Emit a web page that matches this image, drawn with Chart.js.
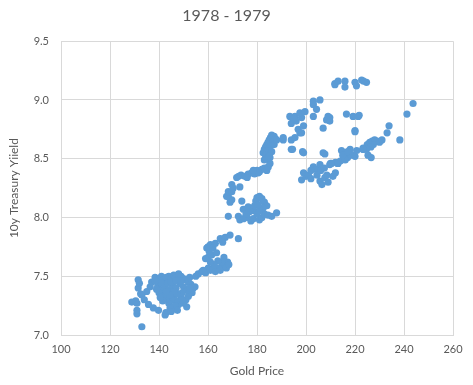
<!DOCTYPE html>
<html>
<head>
<meta charset="utf-8">
<script src="https://cdn.jsdelivr.net/npm/chart.js@4.4.1/dist/chart.umd.min.js"></script>
<style>
  html, body { margin: 0; padding: 0; background: #ffffff; }
  #wrap { width: 473px; height: 385px; position: relative; }
</style>
</head>
<body>
<div id="wrap"><canvas id="c" width="473" height="385"></canvas></div>
<script>
// ---- Data ----
const chartTitle = '1978 - 1979';
const xAxisTitle = 'Gold Price';
const yAxisTitle = '10y Treasury Yiield';
const xTicks = [100, 120, 140, 160, 180, 200, 220, 240, 260];
const yTicks = [7.0, 7.5, 8.0, 8.5, 9.0, 9.5];

const goldPrice = [
  // early 1978, left edge
  133,128.9,131,131,131.5,131.5,132,130.5,133,135,136.4,138.4,137,135.7,137.7,139.8,142.5,142.8,131,134,132.5,
  // dense low cluster
  140,141,142,143,144,145,146,147,148,149,150,151,152,153,154,154.7,153.5,152,151,151.3,
  150,149,148,147,146,145,144,143,142,141,140,139.5,141,142.5,144,145.5,147,148.5,150,151.5,
  149.5,147.5,146,144.5,143,141.5,140.5,143.5,145,147,149,152.5,146.5,144.5,147.5,145,149.5,152.5,139,138.5,
  // rise to 7.85
  155,156,157.5,158,160.1,159,161,162,163,164,165,166,167,168,167.5,165.5,164,162.5,161,160,
  159,161.5,160.5,159.5,160,161,163,165,167,169,172.4,166,162,163.5,166.5,168.5,
  // climb to 8.5
  168.3,169,169.7,168.3,167.6,168.3,169.7,169.7,170.3,173,171.7,172.5,173.5,175,176.4,177.8,179,180,181,182,
  183,184,184.6,185.3,185.3,180.5,178.5,176,
  // top of 1978 column
  182.5,183,183.5,184,184.5,185,185.5,186,187,187.5,186.5,185.5,184.5,183.5,186,187,188,185,184,183,
  // 8.0 - 8.2 group
  172.4,173.8,174.4,173,174.5,176,177.5,178.5,180,181,182,183,184.5,186,188,178.5,179,179.5,180,181,
  182,183,184,182.5,181,180.5,177,176.4,175.5,
  // 190 - 210 upper
  190.7,190.7,194,194,195.5,194.5,198.6,199,193.4,194,195.5,196.8,197.5,198.2,198.2,197.5,199.6,199,203,203,
  203,204.3,205.7,207,208.4,209.7,209,209.7,207.7,207,196,195,
  // top row ~9.15
  211.8,211.8,213.1,215.9,215.9,220,220.6,222.7,224.7,223.5,
  // scattered right
  216.5,219.2,221.3,221.7,220,220,243.7,241.2,233.9,233.1,238.3,
  // lower right cluster
  225,226,227,228,229,230,231,227.5,226.5,223.3,224.7,214.5,216,218,219,220,217,215.5,225.3,226.6,
  223.3,210,212,213,214,216,209.7,
  // 200 - 213 lower group
  198.2,199,200,201,202,203,204,205.7,205.7,206.5,207.7,208.5,209,210.4,211,212,213,204.5,206,207.5,
  202,215,217,220.7,223.3
];

const treasuryYield = [
  7.07,7.28,7.27,7.18,7.40,7.47,7.44,7.29,7.34,7.37,7.41,7.49,7.45,7.26,7.23,7.21,7.17,7.19,7.21,7.30,7.35,
  7.48,7.50,7.47,7.49,7.50,7.48,7.51,7.49,7.52,7.50,7.48,7.47,7.45,7.43,7.40,7.41,7.36,7.33,7.30,7.24,
  7.27,7.32,7.26,7.29,7.33,7.30,7.27,7.31,7.34,7.38,7.36,7.42,7.44,7.41,7.38,7.42,7.40,7.44,7.41,7.38,
  7.36,7.35,7.37,7.34,7.37,7.29,7.32,7.44,7.45,7.46,7.46,7.49,7.25,7.23,7.21,7.20,7.30,7.40,7.39,7.46,
  7.50,7.52,7.54,7.55,7.57,7.53,7.55,7.56,7.54,7.57,7.55,7.58,7.60,7.62,7.57,7.62,7.63,7.60,7.62,7.66,
  7.65,7.68,7.71,7.74,7.75,7.77,7.78,7.82,7.83,7.85,7.82,7.79,7.74,7.70,7.66,7.60,
  8.01,8.13,8.15,8.18,8.18,8.22,8.22,8.28,8.25,8.26,8.34,8.35,8.36,8.35,8.37,8.38,8.37,8.40,8.39,8.41,
  8.42,8.40,8.43,8.46,8.51,8.38,8.40,8.34,
  8.55,8.58,8.60,8.62,8.64,8.66,8.68,8.70,8.69,8.67,8.64,8.61,8.57,8.53,8.56,8.62,8.66,8.52,8.50,8.49,
  8.01,8.14,8.07,7.98,7.99,8.00,7.97,7.99,8.03,7.98,8.00,8.03,8.02,8.01,8.04,8.06,8.10,8.14,8.17,8.18,
  8.16,8.13,8.10,8.08,8.06,8.11,8.05,8.09,8.03,
  8.66,8.68,8.66,8.58,8.68,8.58,8.56,8.55,8.86,8.80,8.86,8.75,8.72,8.72,8.85,8.89,8.90,8.78,8.86,8.96,
  8.99,8.92,9.00,8.76,8.83,8.85,8.86,8.82,8.54,8.55,8.82,8.84,
  9.13,9.14,9.16,9.16,9.11,9.15,9.12,9.17,9.15,9.16,
  8.88,8.86,8.86,8.87,8.74,8.73,8.97,8.88,8.78,8.72,8.66,
  8.62,8.64,8.65,8.66,8.65,8.64,8.66,8.62,8.60,8.59,8.58,8.57,8.55,8.58,8.53,8.52,8.51,8.53,8.53,8.51,
  8.58,8.46,8.47,8.46,8.48,8.49,8.45,
  8.32,8.38,8.35,8.36,8.33,8.43,8.41,8.45,8.31,8.28,8.34,8.36,8.30,8.46,8.35,8.38,8.46,8.36,8.40,8.42,
  8.40,8.53,8.56,8.57,8.58
];

if (goldPrice.length !== treasuryYield.length) {
  throw new Error('length mismatch ' + goldPrice.length + ' vs ' + treasuryYield.length);
}

const points = goldPrice.map((g, i) => ({ x: g, y: treasuryYield[i] }));

const textColor = '#595959';
const gridColor = '#d9d9d9';
const fontFamily = 'Lato, "Liberation Sans", sans-serif';

new Chart(document.getElementById('c'), {
  type: 'scatter',
  data: {
    datasets: [{
      label: 'Yield',
      data: points,
      backgroundColor: '#5B9BD5',
      borderWidth: 0,
      pointRadius: 3.6,
      pointHoverRadius: 3.6
    }]
  },
  options: {
    responsive: false,
    animation: false,
    events: [],
    layout: { padding: { left: 0, right: 20, top: 0, bottom: 0 } },
    plugins: {
      legend: { display: false },
      tooltip: { enabled: false },
      title: {
        display: true,
        text: chartTitle,
        color: textColor,
        font: { family: fontFamily, size: 16, weight: 'normal' },
        padding: { top: 6, bottom: 16 }
      }
    },
    scales: {
      x: {
        type: 'linear',
        min: xTicks[0],
        max: xTicks[xTicks.length - 1],
        afterBuildTicks: (s) => { s.ticks = xTicks.map(v => ({ value: v })); },
        afterFit: (s) => { s.height = 50; },
        grid: { color: gridColor, drawTicks: false },
        border: { color: gridColor },
        ticks: {
          color: textColor,
          padding: 8,
          font: { family: fontFamily, size: 11 },
          callback: (v) => String(v)
        },
        title: {
          display: true,
          text: xAxisTitle,
          color: textColor,
          font: { family: fontFamily, size: 12 },
          padding: { top: 0, bottom: 7 }
        }
      },
      y: {
        type: 'linear',
        min: yTicks[0],
        max: yTicks[yTicks.length - 1],
        afterBuildTicks: (s) => { s.ticks = yTicks.map(v => ({ value: v })); },
        afterFit: (s) => { s.width = 61; },
        grid: { color: gridColor, drawTicks: false },
        border: { color: gridColor },
        ticks: {
          color: textColor,
          padding: 12,
          font: { family: fontFamily, size: 11 },
          callback: (v) => Number(v).toFixed(1)
        },
        title: {
          display: true,
          text: yAxisTitle,
          color: textColor,
          font: { family: fontFamily, size: 12 },
          padding: { top: 7, bottom: 0 }
        }
      }
    }
  }
});
</script>
</body>
</html>
